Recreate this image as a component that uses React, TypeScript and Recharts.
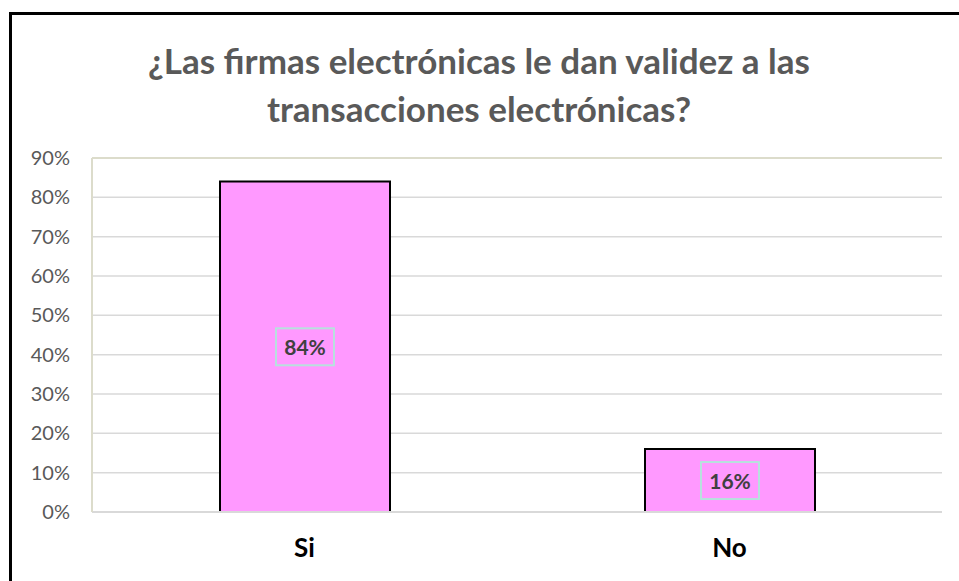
import React from 'react';
import {
  BarChart,
  Bar,
  XAxis,
  YAxis,
  CartesianGrid,
  LabelList,
  ReferenceLine,
} from 'recharts';

const CATEGORIES = ['Si', 'No'];
const VALUES = [0.84, 0.16];
const Y_TICKS = [0, 0.1, 0.2, 0.3, 0.4, 0.5, 0.6, 0.7, 0.8, 0.9];
const TITLE_LINES = ['¿Las firmas electrónicas le dan validez a las', 'transacciones electrónicas?'];

const data = CATEGORIES.map((name, i) => ({ name, value: VALUES[i] }));

const FONT = 'Lato, "Open Sans", sans-serif';

// etiqueta con recuadro celeste en el centro de la barra
const BoxLabel = (props: any) => {
  const { x = 0, y = 0, width = 0, height = 0, value = 0 } = props;
  const cx = Number(x) + Number(width) / 2;
  const cy = Number(y) + Number(height) / 2;
  const w = 58;
  const h = 37;
  return (
    <g>
      <rect x={cx - w / 2} y={cy - h / 2} width={w} height={h} fill="none" stroke="#B7E1DD" strokeWidth={2} />
      <text
        x={cx}
        y={cy}
        textAnchor="middle"
        dominantBaseline="central"
        fill="#404040"
        fontWeight={700}
        fontSize={21}
        fontFamily={FONT}
      >
        {`${Math.round(Number(value) * 100)}%`}
      </text>
    </g>
  );
};

export default function App() {
  return (
    <div style={{ position: 'fixed', left: 0, top: 0, width: 959, height: 581, overflow: 'hidden', background: '#fff' }}>
      <div
        style={{
          position: 'absolute',
          left: 9,
          top: 12,
          width: 980,
          height: 600,
          border: '3px solid #000',
          boxSizing: 'border-box',
          background: '#fff',
          fontFamily: FONT,
        }}
      >
        <div
          style={{
            position: 'absolute',
            left: 0,
            top: 21,
            width: 934,
            textAlign: 'center',
            color: '#595959',
            fontWeight: 700,
            fontSize: 35,
            lineHeight: '48px',
          }}
        >
          {TITLE_LINES.map((t) => (
            <div key={t}>{t}</div>
          ))}
        </div>
        <div style={{ position: 'absolute', left: 0, top: 0 }}>
          <BarChart
            width={940}
            height={560}
            data={data}
            margin={{ top: 143, right: 10, left: 20, bottom: 13 }}
          >
            <CartesianGrid vertical={false} stroke="#D9D9D9" strokeWidth={1.5} />
            <ReferenceLine y={0.9} stroke="#DCDCCB" strokeWidth={2} />
            <XAxis
              dataKey="name"
              axisLine={{ stroke: '#D9D9D9', strokeWidth: 2 }}
              tickLine={false}
              tickSize={0}
              tickMargin={27}
              height={50}
              tick={{ fill: '#000', fontSize: 26, fontWeight: 700, fontFamily: FONT }}
            />
            <YAxis
              width={60}
              domain={[0, 0.9]}
              ticks={Y_TICKS}
              interval={0}
              tickFormatter={(v) => `${Math.round(v * 100)}%`}
              axisLine={{ stroke: '#DCDCCB', strokeWidth: 2 }}
              tickLine={false}
              tickSize={0}
              tickMargin={22}
              tick={{ fill: '#595959', fontSize: 20, fontFamily: FONT }}
            />
            <YAxis
              yAxisId="right"
              orientation="right"
              width={0}
              domain={[0, 0.9]}
              tick={false}
              tickLine={false}
              axisLine={{ stroke: '#DCDCCB', strokeWidth: 2 }}
            />
            <Bar dataKey="value" fill="#FF99FF" stroke="#000" strokeWidth={2} barSize={170} isAnimationActive={false}>
              <LabelList dataKey="value" content={<BoxLabel />} />
            </Bar>
          </BarChart>
        </div>
      </div>
    </div>
  );
}
